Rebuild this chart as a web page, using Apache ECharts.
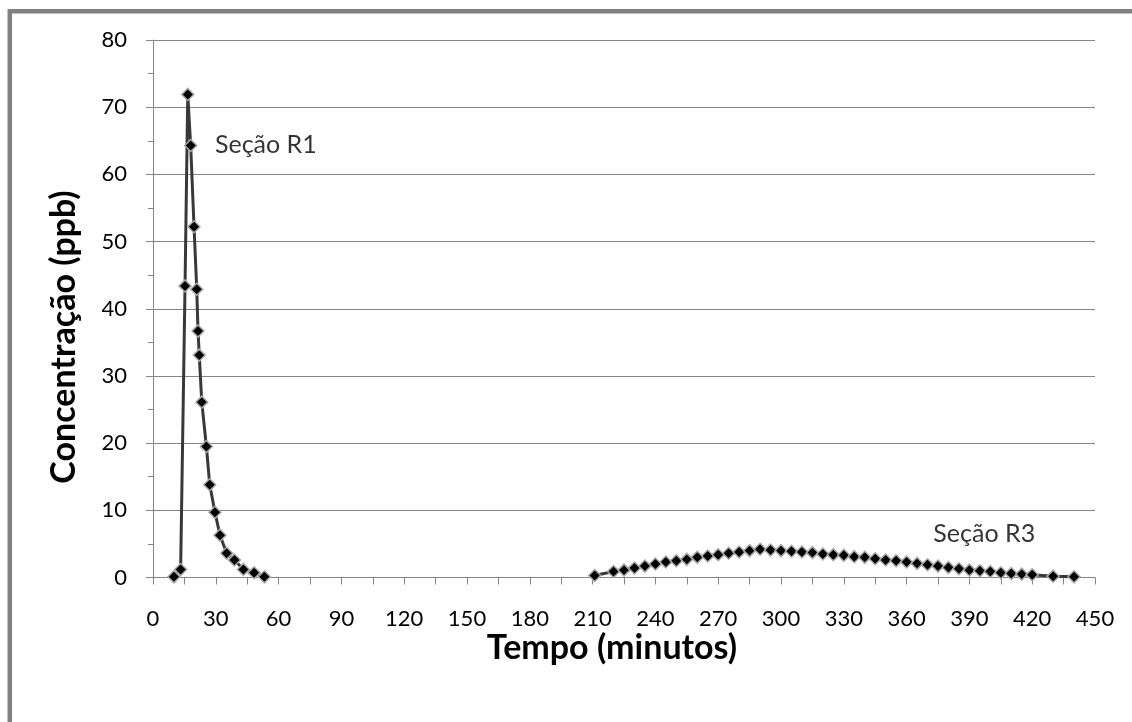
<!DOCTYPE html>
<html>
<head>
<meta charset="utf-8">
<script src="https://cdn.jsdelivr.net/npm/echarts@6/dist/echarts.min.js"></script>
<style>
html,body{margin:0;padding:0;background:#fff;}
#chart{width:1132px;height:722px;}
</style>
</head>
<body>
<div id="chart"></div>
<script>
// Seção R1
const r1Time = [10, 13.2, 15.3, 16.6, 18, 19.6, 20.9, 21.5, 22.1, 23.3, 25.5, 27.1, 29.6, 32, 35.2, 38.9, 43.2, 48.3, 53.2];
const r1Conc = [0.1, 1.2, 43.4, 71.9, 64.3, 52.2, 42.9, 36.7, 33.1, 26.1, 19.5, 13.8, 9.7, 6.3, 3.6, 2.6, 1.2, 0.7, 0.1];
// Seção R3
const r3Time = [211, 220, 225, 230, 235, 240, 245, 250, 255, 260, 265, 270, 275, 280, 285, 290, 295, 300, 305, 310, 315, 320, 325, 330, 335, 340, 345, 350, 355, 360, 365, 370, 375, 380, 385, 390, 395, 400, 405, 410, 415, 420, 430, 440];
const r3Conc = [0.3, 0.9, 1.1, 1.4, 1.7, 2.0, 2.3, 2.5, 2.7, 3.0, 3.2, 3.4, 3.6, 3.8, 4.0, 4.2, 4.1, 4.0, 3.9, 3.8, 3.7, 3.5, 3.4, 3.3, 3.1, 3.0, 2.8, 2.6, 2.5, 2.3, 2.1, 1.9, 1.7, 1.5, 1.3, 1.1, 1.0, 0.9, 0.7, 0.6, 0.5, 0.4, 0.2, 0.1];

const xTitle = 'Tempo (minutos)';
const yTitle = 'Concentração (ppb)';
const labelR1 = {text: 'Seção R1', x: 29.6, y: 64.4};
const labelR3 = {text: 'Seção R3', x: 421.4, y: 6.5};

const FONT = 'Lato';
const chart = echarts.init(document.getElementById('chart'), null, {renderer: 'canvas'});

function pairs(t, v) { return t.map((x, i) => [x, v[i]]); }

const seriesStyle = {
  type: 'line',
  symbol: 'diamond',
  symbolSize: 12,
  lineStyle: {color: '#383838', width: 3},
  itemStyle: {color: '#000', borderColor: '#a8a8a8', borderWidth: 1.5},
  animation: false,
  z: 3
};

function textLabel(l, pos) {
  return {value: [l.x, l.y], label: {show: true, formatter: l.text, position: pos, distance: 0,
    fontFamily: FONT, fontSize: 25, color: '#000'}};
}

const titleFont = 'bold 34px ' + FONT;

chart.setOption({
  animation: false,
  backgroundColor: '#fff',
  grid: {left: 153, right: 37, top: 40, bottom: 144.5},
  graphic: [{
    type: 'rect',
    shape: {x: 9.8, y: 11.3, width: 1300, height: 900},
    style: {fill: 'none', stroke: '#808080', lineWidth: 4.5},
    silent: true
  }, {
    type: 'text', x: 612, y: 648, silent: true,
    style: {text: xTitle, font: titleFont, fill: '#000', align: 'center', verticalAlign: 'middle'}
  }, {
    type: 'text', x: 64, y: 337, rotation: Math.PI / 2, silent: true,
    style: {text: yTitle, font: titleFont, fill: '#000', align: 'center', verticalAlign: 'middle'}
  }],
  xAxis: {
    type: 'value', min: 0, max: 450, interval: 30,
    axisLine: {show: true, lineStyle: {color: '#868686', width: 1}},
    axisTick: {show: true, length: 7, lineStyle: {color: '#868686'}},
    minorTick: {show: true, splitNumber: 2, length: 7, lineStyle: {color: '#868686'}},
    axisLabel: {fontFamily: FONT, fontSize: 22, color: '#000', margin: 30},
    splitLine: {show: false}
  },
  yAxis: {
    type: 'value', min: 0, max: 80, interval: 10,
    axisLine: {show: true, lineStyle: {color: '#868686', width: 1}},
    axisTick: {show: true, length: 7, lineStyle: {color: '#868686'}},
    minorTick: {show: true, splitNumber: 2, length: 5, lineStyle: {color: '#868686'}},
    axisLabel: {fontFamily: FONT, fontSize: 22, color: '#000', margin: 26},
    splitLine: {show: true, lineStyle: {color: '#868686', width: 1}}
  },
  series: [
    Object.assign({}, seriesStyle, {name: 'R1', data: pairs(r1Time, r1Conc)}),
    Object.assign({}, seriesStyle, {name: 'R3', data: pairs(r3Time, r3Conc)}),
    {
      type: 'scatter', symbolSize: 0, silent: true, animation: false, z: 5,
      data: [textLabel(labelR1, 'right'), textLabel(labelR3, 'left')]
    }
  ]
});
</script>
</body>
</html>
